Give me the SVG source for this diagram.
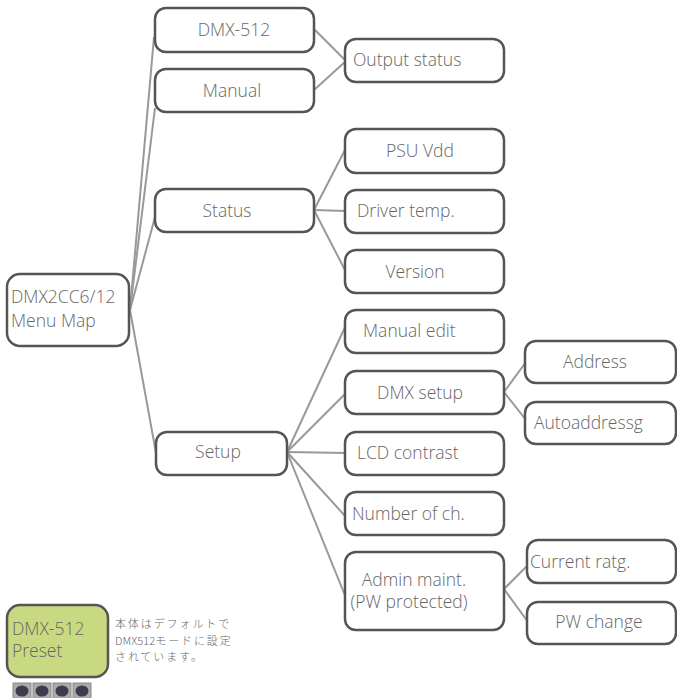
<svg xmlns="http://www.w3.org/2000/svg" width="677" height="698" viewBox="0 0 677 698">
<style>
.box{fill:#fff;stroke:#555;stroke-width:2.5}
.t{font-family:"Open Sans","Liberation Sans",sans-serif;font-size:17.5px;font-weight:300;fill:#666}
.c{text-anchor:middle}
.ln{stroke:#999;stroke-width:2;fill:none}
.jp{font-family:"Noto Sans CJK JP",sans-serif;font-size:11px;letter-spacing:1.9px;font-weight:300;fill:#666}
.lat{letter-spacing:0.1px}
.btn{fill:#aaa;stroke:#888;stroke-width:1}
.knob{fill:#3c3c4c}
</style>
<g id="connectors">
<line class="ln" x1="130" y1="310" x2="154" y2="37"/>
<line class="ln" x1="130" y1="310" x2="155" y2="108"/>
<line class="ln" x1="130" y1="310" x2="155" y2="217"/>
<line class="ln" x1="130" y1="310" x2="156" y2="453"/>
<line class="ln" x1="314" y1="29" x2="346" y2="61"/>
<line class="ln" x1="314" y1="90" x2="346" y2="61"/>
<line class="ln" x1="314" y1="210" x2="346" y2="148"/>
<line class="ln" x1="314" y1="210" x2="346" y2="211"/>
<line class="ln" x1="314" y1="210" x2="346" y2="272"/>
<line class="ln" x1="287" y1="452" x2="346" y2="325"/>
<line class="ln" x1="287" y1="452" x2="346" y2="393"/>
<line class="ln" x1="287" y1="452" x2="346" y2="453"/>
<line class="ln" x1="287" y1="452" x2="346" y2="517"/>
<line class="ln" x1="287" y1="452" x2="346" y2="598"/>
<line class="ln" x1="504" y1="392" x2="526" y2="362"/>
<line class="ln" x1="504" y1="392" x2="526" y2="420"/>
<line class="ln" x1="504" y1="589" x2="528" y2="565"/>
<line class="ln" x1="504" y1="589" x2="528" y2="622"/>
</g>
<g id="root"><rect class="box" x="7" y="274" width="122" height="72" rx="13"/><text class="t" x="11" y="303">DMX2CC6/12</text><text class="t" x="11" y="327">Menu Map</text></g>
<g id="dmx512"><rect class="box" x="155" y="8" width="159" height="44" rx="11"/><text class="t c" x="234" y="36">DMX-512</text></g>
<g id="manual"><rect class="box" x="155" y="69" width="159" height="43" rx="11"/><text class="t c" x="232" y="97">Manual</text></g>
<g id="status"><rect class="box" x="155" y="189" width="159" height="43" rx="11"/><text class="t c" x="227" y="217">Status</text></g>
<g id="setup"><rect class="box" x="156" y="432" width="131" height="43" rx="11"/><text class="t c" x="218" y="458">Setup</text></g>
<g id="output-status"><rect class="box" x="345" y="39" width="159" height="43" rx="11"/><text class="t" x="353" y="66">Output status</text></g>
<g id="psu-vdd"><rect class="box" x="345" y="129" width="159" height="44" rx="11"/><text class="t c" x="420" y="157">PSU Vdd</text></g>
<g id="driver-temp"><rect class="box" x="345" y="190" width="159" height="43" rx="11"/><text class="t" x="357" y="217">Driver temp.</text></g>
<g id="version"><rect class="box" x="345" y="250" width="159" height="43" rx="11"/><text class="t c" x="415" y="278">Version</text></g>
<g id="manual-edit"><rect class="box" x="345" y="310" width="159" height="43" rx="11"/><text class="t" x="363" y="337">Manual edit</text></g>
<g id="dmx-setup"><rect class="box" x="345" y="371" width="159" height="43" rx="11"/><text class="t c" x="420" y="399">DMX setup</text></g>
<g id="lcd-contrast"><rect class="box" x="345" y="432" width="159" height="43" rx="11"/><text class="t" x="357" y="459">LCD contrast</text></g>
<g id="number-of-ch"><rect class="box" x="345" y="492" width="159" height="43" rx="11"/><text class="t" x="352" y="520">Number of ch.</text></g>
<g id="admin-maint"><rect class="box" x="345" y="552" width="159" height="78" rx="11"/><text class="t c" x="414" y="586">Admin maint.</text><text class="t c" x="409" y="608">(PW protected)</text></g>
<g id="address"><rect class="box" x="525" y="341" width="151" height="42" rx="11"/><text class="t c" x="595" y="368">Address</text></g>
<g id="autoaddressg"><rect class="box" x="525" y="402" width="151" height="42" rx="11"/><text class="t" x="534" y="429">Autoaddressg</text></g>
<g id="current-ratg"><rect class="box" x="527" y="540" width="149" height="43" rx="11"/><text class="t" x="530" y="568">Current ratg.</text></g>
<g id="pw-change"><rect class="box" x="527" y="602" width="149" height="42" rx="11"/><text class="t c" x="599" y="628">PW change</text></g>
<g id="preset"><rect x="7" y="605" width="101" height="72" rx="13" fill="#c9d981" stroke="#555" stroke-width="2.5"/><text class="t" x="12" y="635">DMX-512</text><text class="t" x="12" y="657">Preset</text></g>
<g id="note"><text class="jp" x="115" y="628">本体はデフォルトで</text><text class="jp" x="115" y="644.5"><tspan class="lat">DMX512</tspan>モードに設定</text><text class="jp" x="115" y="661">されています。</text></g>
<g id="buttons">
<rect class="btn" x="13" y="683" width="18" height="18"/><ellipse class="knob" cx="22" cy="691" rx="6.5" ry="5.5"/>
<rect class="btn" x="33" y="683" width="18" height="18"/><ellipse class="knob" cx="42" cy="691" rx="6.5" ry="5.5"/>
<rect class="btn" x="53" y="683" width="18" height="18"/><ellipse class="knob" cx="62" cy="691" rx="6.5" ry="5.5"/>
<rect class="btn" x="73" y="683" width="18" height="18"/><ellipse class="knob" cx="82" cy="691" rx="6.5" ry="5.5"/>
</g>
</svg>
